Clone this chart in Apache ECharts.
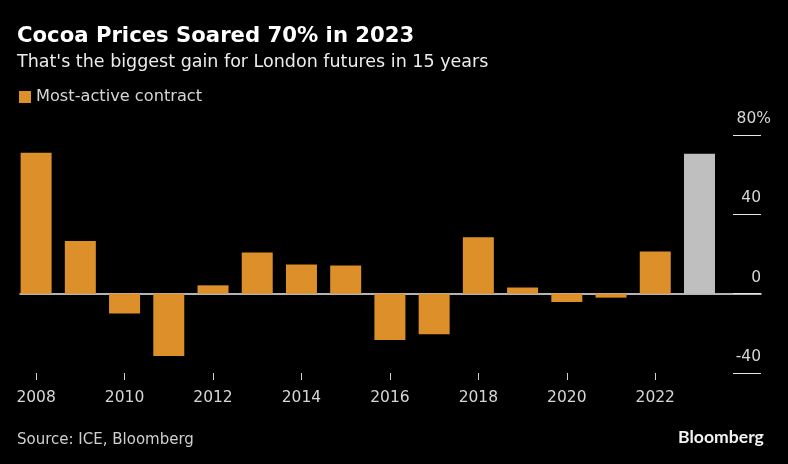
<!DOCTYPE html>
<html>
<head>
<meta charset="utf-8">
<script src="https://cdn.jsdelivr.net/npm/echarts@6/dist/echarts.min.js"></script>
<style>
html, body { margin: 0; padding: 0; background: #000; }
#main { width: 788px; height: 464px; }
</style>
</head>
<body>
<div id="main"></div>
<script>
var years = ['2008','2009','2010','2011','2012','2013','2014','2015','2016','2017','2018','2019','2020','2021','2022','2023'];
var gains = [71.1, 26.6, -10, -31.4, 4.2, 20.8, 14.7, 14.2, -23.4, -20.5, 28.4, 3.1, -4.2, -2, 21.3, 70.6];
var highlightYear = '2023';
var seriesName = 'Most-active contract';
var valueTicks = [-40, 0, 40, 80];

var orange = '#dd8f2a';
var gray = '#bfbfbf';
var font = '"DejaVu Sans"';

var myChart = echarts.init(document.getElementById('main'));

var barData = gains.map(function (v, i) {
    return {
        value: v,
        itemStyle: { color: years[i] === highlightYear ? gray : orange }
    };
});

var option = {
    backgroundColor: '#000',
    animation: false,
    textStyle: { fontFamily: font },
    title: [
        { text: 'Cocoa Prices Soared 70% in 2023', left: 12, top: 21,
          textStyle: { color: '#fff', fontSize: 21.2, fontWeight: 'bold', fontFamily: font } },
        { text: "That's the biggest gain for London futures in 15 years", left: 12, top: 48,
          textStyle: { color: '#ececec', fontSize: 17.5, fontWeight: 'normal', fontFamily: font } },
        { text: 'Source: ICE, Bloomberg', left: 12, top: 428,
          textStyle: { color: '#cfcfcf', fontSize: 15, fontWeight: 'normal', fontFamily: font } },
        { text: 'Bloomberg', left: 673, top: 423,
          textStyle: { color: '#f2f2f2', fontSize: 17.6, fontWeight: 'bold', fontFamily: 'Lato' } }
    ],
    legend: {
        left: 14, top: 84,
        itemWidth: 12, itemHeight: 12, itemGap: 7,
        icon: 'rect',
        data: [seriesName],
        textStyle: { color: '#d6d6d6', fontSize: 16.2, fontFamily: font, padding: [0, 0, 0, 0] }
    },
    // bars sit in the first grid, the second one only carries the right hand scale and zero line
    grid: [
        { left: 14, right: 66.4, top: 135, bottom: 91 },
        { left: 20, right: 27, top: 135, bottom: 91 }
    ],
    xAxis: [{
        type: 'category',
        gridIndex: 0,
        data: years,
        axisLine: { show: false, onZero: false },
        axisTick: { show: true, alignWithLabel: true, interval: 1, length: 7, lineStyle: { color: '#d0d0d0', width: 1 } },
        axisLabel: { interval: 1, color: '#d6d6d6', fontSize: 15.5, margin: 17, fontFamily: font }
    }, {
        type: 'value',
        gridIndex: 1,
        min: 0,
        max: 1,
        axisLine: { show: true, onZero: true, lineStyle: { color: '#f0f0f0', width: 1.5 } },
        axisTick: { show: false },
        axisLabel: { show: false },
        splitLine: { show: false }
    }],
    yAxis: [{
        type: 'value',
        gridIndex: 0,
        min: valueTicks[0],
        max: valueTicks[valueTicks.length - 1],
        interval: 40,
        axisLine: { show: false },
        axisTick: { show: false },
        axisLabel: { show: false },
        splitLine: { show: false }
    }, {
        type: 'value',
        gridIndex: 1,
        position: 'right',
        min: valueTicks[0],
        max: valueTicks[valueTicks.length - 1],
        interval: 40,
        axisLine: { show: false, onZero: false },
        axisTick: { show: true, inside: true, length: 28, lineStyle: { color: '#e6e6e6', width: 1 } },
        splitLine: { show: false },
        axisLabel: {
            inside: false,
            align: 'right',
            verticalAlign: 'bottom',
            margin: 10,
            formatter: function (v) {
                return v === 80 ? '{top|80%}' : '{num|' + v + '}';
            },
            rich: {
                top: { color: '#d6d6d6', fontSize: 15.5, fontFamily: font, padding: [0, 0, 8, 0] },
                num: { color: '#d6d6d6', fontSize: 15.5, fontFamily: font, padding: [0, 10, 8, 0] }
            }
        }
    }],
    series: [{
        name: seriesName,
        type: 'bar',
        xAxisIndex: 0,
        yAxisIndex: 0,
        barWidth: 31,
        z: 3,
        itemStyle: { color: orange },
        data: barData
    }]
};

myChart.setOption(option);
</script>
</body>
</html>
